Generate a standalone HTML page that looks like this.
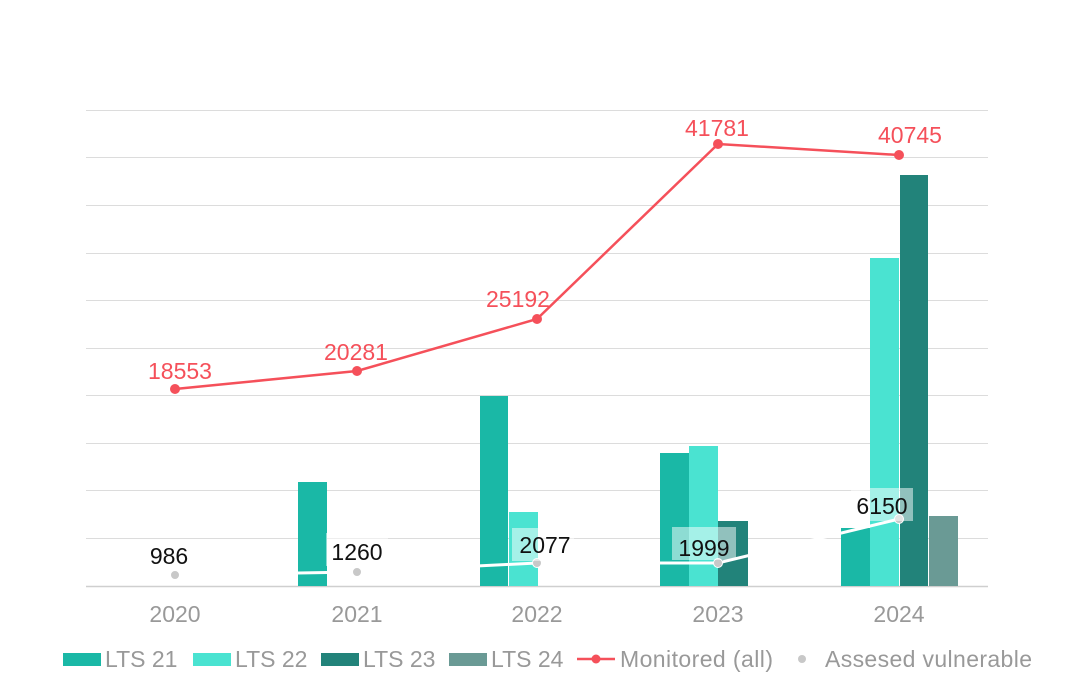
<!DOCTYPE html>
<html><head><meta charset="utf-8"><style>body{margin:0;background:#fff}svg{display:block}text{font-family:"Liberation Sans",sans-serif}</style></head><body>
<svg width="1092" height="690" viewBox="0 0 1092 690">
<g stroke="#dcdcdc" stroke-width="1">
<line x1="86" y1="110.5" x2="988" y2="110.5"/><line x1="86" y1="157.5" x2="988" y2="157.5"/><line x1="86" y1="205.5" x2="988" y2="205.5"/><line x1="86" y1="253.5" x2="988" y2="253.5"/><line x1="86" y1="300.5" x2="988" y2="300.5"/><line x1="86" y1="348.5" x2="988" y2="348.5"/><line x1="86" y1="395.5" x2="988" y2="395.5"/><line x1="86" y1="443.5" x2="988" y2="443.5"/><line x1="86" y1="490.5" x2="988" y2="490.5"/><line x1="86" y1="538.5" x2="988" y2="538.5"/>
</g>
<line x1="86" y1="586.5" x2="988" y2="586.5" stroke="#cfcfcf" stroke-width="1.5"/>
<g>
<rect x="298" y="482" width="29" height="104" fill="#1ab8a6"/>
<rect x="480" y="396" width="28" height="190" fill="#1ab8a6"/>
<rect x="509" y="512" width="29" height="74" fill="#4ae3d1"/>
<rect x="660" y="453" width="29" height="133" fill="#1ab8a6"/>
<rect x="689" y="446" width="29" height="140" fill="#4ae3d1"/>
<rect x="718" y="521" width="30" height="65" fill="#22837a"/>
<rect x="841" y="528" width="29" height="58" fill="#1ab8a6"/>
<rect x="870" y="258" width="29" height="328" fill="#4ae3d1"/>
<rect x="900" y="175" width="28" height="411" fill="#22837a"/>
<rect x="929" y="516" width="29" height="70" fill="#6a9a95"/>
</g>
<polyline points="175,575 357,572 537,563 718,563 899,519" fill="none" stroke="#fff" stroke-width="3"/>
<g fill="#c8c8c8" stroke="#fff" stroke-width="1"><circle cx="175" cy="575" r="4.5"/><circle cx="357" cy="572" r="4.5"/><circle cx="537" cy="563" r="4.5"/><circle cx="718" cy="563" r="4.5"/><circle cx="899" cy="519" r="4.5"/></g>
<g fill="#fff" fill-opacity="0.5">
<rect x="326" y="533" width="62" height="33"/><rect x="512" y="528" width="62" height="33"/><rect x="672" y="527" width="64" height="33"/><rect x="851" y="488" width="62" height="33"/>
</g>
<g font-size="23" fill="#111" text-anchor="middle">
<text x="169" y="564">986</text><text x="357" y="560">1260</text><text x="545" y="553">2077</text><text x="704" y="556">1999</text><text x="882" y="514">6150</text>
</g>
<polyline points="175,389 357,371 537,319 718,144 899,155" fill="none" stroke="#f5505a" stroke-width="2.5"/>
<g fill="#f5505a"><circle cx="175" cy="389" r="5"/><circle cx="357" cy="371" r="5"/><circle cx="537" cy="319" r="5"/><circle cx="718" cy="144" r="5"/><circle cx="899" cy="155" r="5"/></g>
<g font-size="23" fill="#f5505a" text-anchor="middle">
<text x="180" y="379">18553</text><text x="356" y="360">20281</text><text x="518" y="307">25192</text><text x="717" y="136">41781</text><text x="910" y="143">40745</text>
</g>
<g font-size="23" fill="#999" text-anchor="middle">
<text x="175" y="622">2020</text><text x="357" y="622">2021</text><text x="537" y="622">2022</text><text x="718" y="622">2023</text><text x="899" y="622">2024</text>
</g>
<g font-size="23" fill="#999">
<rect x="63" y="653" width="38" height="13" fill="#1ab8a6"/><text x="105" y="667">LTS 21</text>
<rect x="193" y="653" width="38" height="13" fill="#4ae3d1"/><text x="235" y="667">LTS 22</text>
<rect x="321" y="653" width="38" height="13" fill="#22837a"/><text x="363" y="667">LTS 23</text>
<rect x="449" y="653" width="38" height="13" fill="#6a9a95"/><text x="491" y="667">LTS 24</text>
<line x1="577" y1="659" x2="615" y2="659" stroke="#f5505a" stroke-width="2.5"/><circle cx="596" cy="659" r="4.5" fill="#f5505a"/><text x="620" y="667" textLength="153">Monitored (all)</text>
<circle cx="802" cy="659" r="4" fill="#c8c8c8"/><text x="825" y="667" textLength="207">Assesed vulnerable</text>
</g>
</svg>
</body></html>
